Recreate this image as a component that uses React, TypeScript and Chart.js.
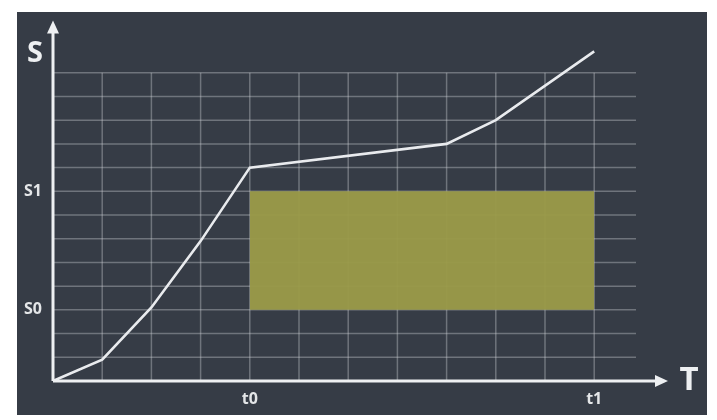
import React, { useEffect, useRef } from "react";
import { Chart, registerables } from "chart.js";

Chart.register(...registerables);

// Curve S(T)
const tValues = [0, 1, 2, 3, 4, 8, 9, 11];
const sValues = [0, 0.9, 3.1, 5.9, 9, 10, 11, 13.9];

// Highlighted region
const regionT = [4, 11];
const regionS = [3, 8];

// Tick labels
const tTickValues = [4, 11];
const tTickLabels = ["t0", "t1"];
const sTickValues = [3, 8];
const sTickLabels = ["S0", "S1"];

// Grid lines
const gridTValues = [1, 2, 3, 4, 5, 6, 7, 8, 9, 10, 11];
const gridSValues = [1, 2, 3, 4, 5, 6, 7, 8, 9, 10, 11, 12, 13];
const gridTEnd = 11.85;
const gridSEnd = 13;

const axisTitleT = "T";
const axisTitleS = "S";

const backgroundPanel = {
  id: "backgroundPanel",
  beforeDraw(chart: any) {
    const { ctx, width, height } = chart;
    ctx.save();
    ctx.fillStyle = "#ffffff";
    ctx.fillRect(0, 0, width, height);
    ctx.fillStyle = "#363c46";
    ctx.fillRect(17, 12, width - 27, height - 17);
    ctx.restore();
  },
};

const gridAndAxes = {
  id: "gridAndAxes",
  beforeDatasetsDraw(chart: any) {
    const { ctx, scales } = chart;
    const x = scales.x;
    const y = scales.y;
    ctx.save();
    ctx.strokeStyle = "rgba(205,208,212,0.38)";
    ctx.lineWidth = 1.5;
    for (const s of gridSValues) {
      const py = y.getPixelForValue(s);
      ctx.beginPath();
      ctx.moveTo(x.getPixelForValue(0), py);
      ctx.lineTo(x.getPixelForValue(gridTEnd), py);
      ctx.stroke();
    }
    for (const t of gridTValues) {
      const px = x.getPixelForValue(t);
      ctx.beginPath();
      ctx.moveTo(px, y.getPixelForValue(0));
      ctx.lineTo(px, y.getPixelForValue(gridSEnd));
      ctx.stroke();
    }
    ctx.restore();
  },
  afterDatasetsDraw(chart: any) {
    const { ctx, chartArea, scales } = chart;
    const x0 = scales.x.getPixelForValue(0);
    const y0 = scales.y.getPixelForValue(0);
    ctx.save();
    ctx.strokeStyle = "#eef0f2";
    ctx.fillStyle = "#eef0f2";
    ctx.lineWidth = 3;
    // y axis
    ctx.beginPath();
    ctx.moveTo(x0, y0);
    ctx.lineTo(x0, chartArea.top + 10);
    ctx.stroke();
    ctx.beginPath();
    ctx.moveTo(x0, chartArea.top);
    ctx.lineTo(x0 - 6, chartArea.top + 13);
    ctx.lineTo(x0 + 6, chartArea.top + 13);
    ctx.closePath();
    ctx.fill();
    // x axis
    ctx.beginPath();
    ctx.moveTo(x0, y0);
    ctx.lineTo(chartArea.right - 10, y0);
    ctx.stroke();
    ctx.beginPath();
    ctx.moveTo(chartArea.right, y0);
    ctx.lineTo(chartArea.right - 13, y0 - 6);
    ctx.lineTo(chartArea.right - 13, y0 + 6);
    ctx.closePath();
    ctx.fill();
    // axis titles
    ctx.textAlign = "center";
    ctx.textBaseline = "alphabetic";
    ctx.font = "bold 29px 'Open Sans', sans-serif";
    ctx.fillText(axisTitleS, x0 - 18, chartArea.top + 41);
    ctx.font = "bold 33px 'Open Sans', sans-serif";
    ctx.textBaseline = "middle";
    ctx.fillText(axisTitleT, chartArea.right + 21, y0);
    ctx.restore();
  },
};

export default function App() {
  const ref = useRef<HTMLCanvasElement | null>(null);

  useEffect(() => {
    if (!ref.current) return;
    const chart = new Chart(ref.current, {
      type: "line",
      data: {
        datasets: [
          {
            data: tValues.map((t, i) => ({ x: t, y: sValues[i] })),
            borderColor: "#e9ebee",
            borderWidth: 2.6,
            pointRadius: 0,
            fill: false,
            tension: 0,
            order: 0,
          },
          {
            data: regionT.map((t) => ({ x: t, y: regionS[1] })),
            borderWidth: 0,
            borderColor: "rgba(0,0,0,0)",
            backgroundColor: "rgba(154,154,72,0.96)",
            pointRadius: 0,
            fill: { value: regionS[0] },
            order: 1,
          },
        ],
      },
      options: {
        animation: false,
        responsive: true,
        maintainAspectRatio: false,
        layout: { padding: { left: 0, top: 20, right: 49, bottom: 0 } },
        plugins: {
          legend: { display: false },
          tooltip: { enabled: false },
        },
        scales: {
          x: {
            type: "linear",
            min: 0,
            max: 12.5,
            grid: { display: false, drawTicks: false },
            border: { display: false },
            afterFit: (s: any) => {
              s.height = 39;
            },
            afterBuildTicks: (s: any) => {
              s.ticks = tTickValues.map((v) => ({ value: v }));
            },
            ticks: {
              padding: 9,
              color: "#e4e6e8",
              font: { family: "'Open Sans', sans-serif", size: 16, weight: "bold" },
              callback: (v: any) => {
                const i = tTickValues.indexOf(Number(v));
                return i >= 0 ? tTickLabels[i] : "";
              },
            },
          },
          y: {
            type: "linear",
            min: 0,
            max: 15.2,
            grid: { display: false, drawTicks: false },
            border: { display: false },
            afterFit: (s: any) => {
              s.width = 53;
            },
            afterBuildTicks: (s: any) => {
              s.ticks = sTickValues.map((v) => ({ value: v }));
            },
            ticks: {
              padding: 11,
              color: "#e4e6e8",
              font: { family: "'Open Sans', sans-serif", size: 16, weight: "bold" },
              callback: (v: any) => {
                const i = sTickValues.indexOf(Number(v));
                return i >= 0 ? sTickLabels[i] : "";
              },
            },
          },
        },
      },
      plugins: [backgroundPanel, gridAndAxes],
    });
    return () => chart.destroy();
  }, []);

  return (
    <div
      style={{
        position: "fixed",
        left: 0,
        top: 0,
        width: 717,
        height: 420,
      }}
    >
      <canvas ref={ref} />
    </div>
  );
}
